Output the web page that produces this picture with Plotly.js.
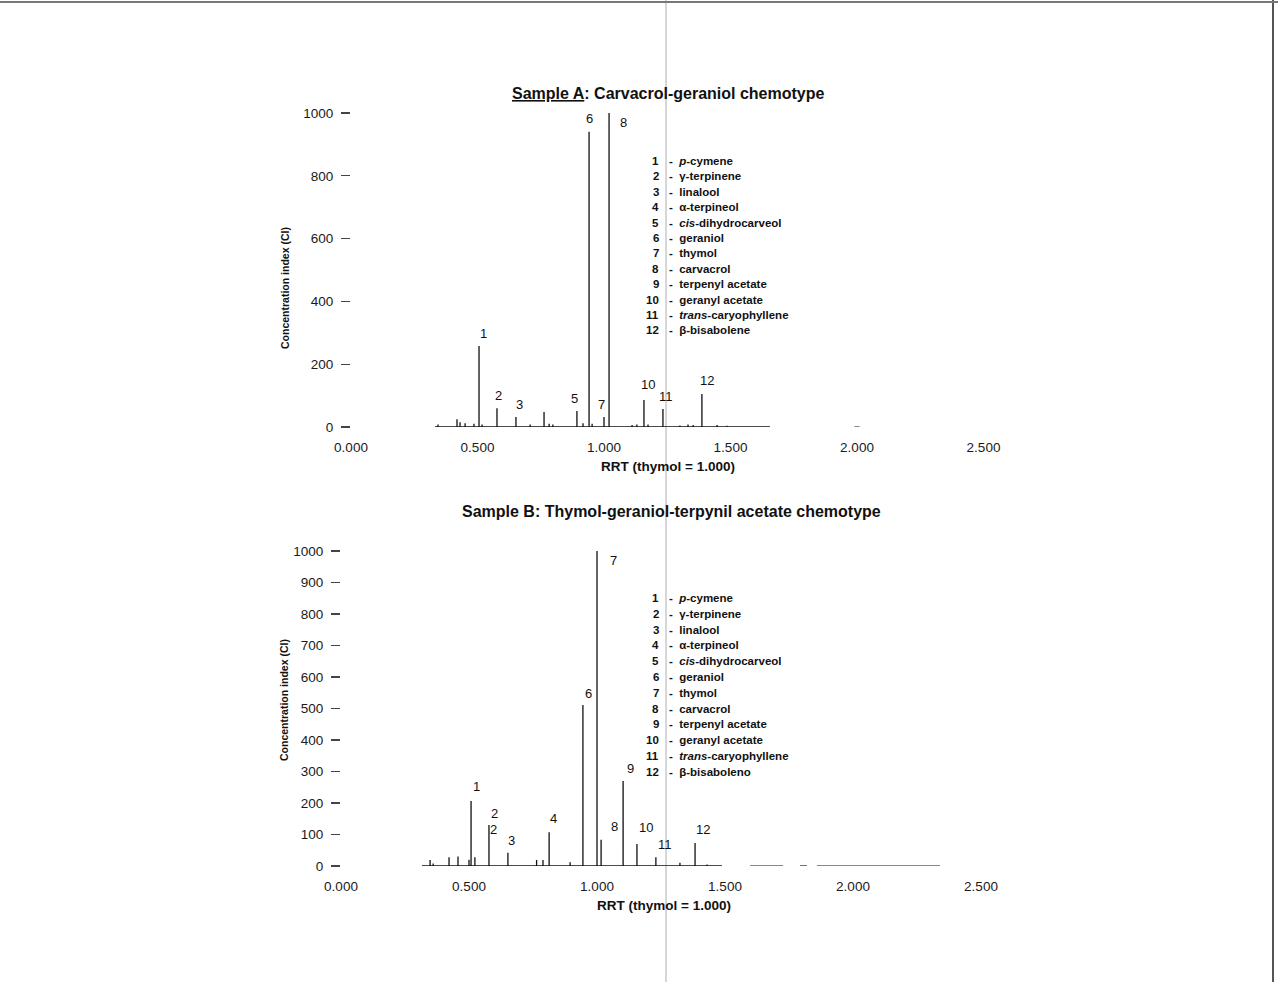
<!DOCTYPE html>
<html><head><meta charset="utf-8">
<script src="https://cdn.plot.ly/plotly-3.0.1.min.js"></script>
<style>html,body{margin:0;padding:0;background:#fff;}#chart{width:1278px;height:982px;}</style>
</head><body><div id="chart"></div>
<script>
// ---------- DATA ----------
const compoundNumbers = ['1','2','3','4','5','6','7','8','9','10','11','12'];
const compoundNames = ['<i>p</i>-cymene','γ-terpinene','linalool','α-terpineol','<i>cis</i>-dihydrocarveol',
  'geraniol','thymol','carvacrol','terpenyl acetate','geranyl acetate','<i>trans</i>-caryophyllene','β-bisabolene'];
const compoundNamesB = ['<i>p</i>-cymene','γ-terpinene','linalool','α-terpineol','<i>cis</i>-dihydrocarveol',
  'geraniol','thymol','carvacrol','terpenyl acetate','geranyl acetate','<i>trans</i>-caryophyllene','β-bisaboleno'];

const titleA = '<u>Sample A</u>: Carvacrol-geraniol chemotype';
const titleB = 'Sample B: Thymol-geraniol-terpynil acetate chemotype';
const xTitle = 'RRT (thymol = 1.000)';
const yTitle = 'Concentration index (CI)';

// Sample A: labelled peaks (RRT, CI)
const peakLabelA = ['1','2','3','5','6','7','8','10','11','12'];
const peakRrtA   = [0.506,0.577,0.652,0.893,0.941,1.000,1.020,1.158,1.233,1.387];
const peakCiA    = [258,60,32,51,940,32,1000,86,57,105];
// Sample A: unlabelled minor peaks
const minorRrtA = [0.344,0.419,0.431,0.451,0.486,0.518,0.708,0.763,0.783,0.798,0.917,0.953,1.111,1.130,1.174,1.300,1.332,1.352,1.447,1.486];
const minorCiA  = [8,25,15,12,10,8,8,48,10,8,12,10,6,8,8,5,8,6,6,4];
const baselineA = [0.332,1.656];
const tailA = [[1.99,2.01]];

// Sample B: labelled peaks
const peakLabelB = ['1','2','3','4','6','7','8','9','10','11','12'];
const peakRrtB   = [0.508,0.578,0.652,0.813,0.945,1.000,1.016,1.102,1.156,1.230,1.383];
const peakCiB    = [206,130,42,107,511,1000,83,270,70,28,73];
const minorRrtB = [0.348,0.360,0.422,0.457,0.500,0.523,0.764,0.789,0.895,1.324,1.430];
const minorCiB  = [19,8,28,30,20,28,19,19,12,10,5];
const baselineB = [0.316,1.488];
const tailB = [[1.598,1.727],[1.793,1.820],[1.859,2.340]];

// ---------- STYLE / LAYOUT HELPERS ----------
const W = 1278, H = 982;
const px = x => x / W, py = y => 1 - y / H;
const FONT = 'Liberation Sans, Arial, Helvetica, sans-serif';
// label offsets (px) [xshift, yshift, mode]
const offA = {'1':[4,3],'2':[2,3],'3':[4,3],'5':[-2,3],'6':[0,4],'7':[-3,3],'8':[14,0,'top'],'10':[4,6],'11':[3,3],'12':[5,4]};
const offB = {'1':[5,5],'2':[6,2],'3':[4,3],'4':[4,4],'6':[6,2],'7':[16,0,'top'],'8':[13,4],'9':[7,3],'10':[9,7],'11':[9,3],'12':[8,4]};

function chromatogram(pr, pc, mr, mc, base) {
  const pts = pr.map((r,i)=>[r,pc[i]]).concat(mr.map((r,i)=>[r,mc[i]])).sort((a,b)=>a[0]-b[0]);
  const x=[base[0]], y=[0];
  pts.forEach(p=>{ x.push(p[0],p[0],p[0]); y.push(0,p[1],0); });
  x.push(base[1]); y.push(0);
  return {x,y};
}
function tailTrace(segs, xa, ya) {
  const x=[], y=[];
  segs.forEach(s=>{ x.push(s[0],s[1],null); y.push(0,0,null); });
  return {x,y,xaxis:xa,yaxis:ya,mode:'lines',line:{color:'#111',width:1.2},hoverinfo:'skip',showlegend:false};
}

const cA = chromatogram(peakRrtA, peakCiA, minorRrtA, minorCiA, baselineA);
const cB = chromatogram(peakRrtB, peakCiB, minorRrtB, minorCiB, baselineB);

const traces = [
  {x:cA.x, y:cA.y, xaxis:'x', yaxis:'y', mode:'lines', line:{color:'#111',width:1.3}, showlegend:false, hoverinfo:'skip'},
  tailTrace(tailA,'x','y'),
  {x:cB.x, y:cB.y, xaxis:'x2', yaxis:'y2', mode:'lines', line:{color:'#111',width:1.3}, showlegend:false, hoverinfo:'skip'},
  tailTrace(tailB,'x2','y2')
];

const ann = [];
function peakLabels(labels, rrt, ci, off, xr, yr) {
  labels.forEach((t,i)=>{
    const o = off[t] || [3,3];
    ann.push({text:t, x:rrt[i], y:ci[i], xref:xr, yref:yr, showarrow:false,
      xanchor:'center', yanchor:o[2]==='top'?'top':'bottom', xshift:o[0], yshift:o[1],
      font:{family:FONT,size:13,color:'#111'}});
  });
}
peakLabels(peakLabelA, peakRrtA, peakCiA, offA, 'x', 'y');
peakLabels(peakLabelB, peakRrtB, peakCiB, offB, 'x2', 'y2');
// duplicated "2" printed on peak 2 of sample B
ann.push({text:peakLabelB[1], x:peakRrtB[1], y:peakCiB[1], xref:'x2', yref:'y2', showarrow:false,
  xanchor:'center', yanchor:'middle', xshift:5, yshift:-4, font:{family:FONT,size:13,color:'#111'}});

function txt(text, x, y, size, opts) {
  ann.push(Object.assign({text:text, x:px(x), y:py(y), xref:'paper', yref:'paper', showarrow:false,
    xanchor:'center', yanchor:'middle', font:{family:FONT,size:size,color:'#111',weight:'bold'}}, opts||{}));
}
function legendBlock(names, top, step) {
  compoundNumbers.forEach((n,i)=>{
    const yy = top + i*step;
    txt(n, 661, yy, 11.5, {xanchor:'right'});
    txt('-&nbsp;&nbsp;'+names[i], 667, yy, 11.5, {xanchor:'left'});
  });
}
legendBlock(compoundNames, 161, 15.4);
legendBlock(compoundNamesB, 598, 15.8);

// titles
txt(titleA, 668, 93, 16);
txt(titleB, 671, 511, 16);
txt(xTitle, 668, 466, 13.5);
txt(xTitle, 664, 905, 13.5);
txt(yTitle, 285, 288, 10.5, {textangle:-90});
txt(yTitle, 284, 700, 10.5, {textangle:-90});

const tickFont = {family:FONT,size:13.5,color:'#1a1a1a'};
const xCommon = {range:[0,2.5], tickvals:[0,0.5,1,1.5,2,2.5], tickformat:'.3f', showline:false, showgrid:false,
  zeroline:false, ticks:'', ticklabelstandoff:10, tickfont:tickFont, fixedrange:true};
const yCommon = {range:[0,1050], showline:false, showgrid:false, zeroline:false, ticks:'outside', ticklen:9,
  tickwidth:1.2, tickcolor:'#444', ticklabelstandoff:5, tickfont:tickFont, fixedrange:true};

const layout = {
  width:W, height:H, margin:{l:0,r:0,t:0,b:0}, paper_bgcolor:'#ffffff', plot_bgcolor:'rgba(0,0,0,0)',
  showlegend:false,
  xaxis:  Object.assign({}, xCommon, {domain:[px(351), px(351+253*2.5)], anchor:'y'}),
  yaxis:  Object.assign({}, yCommon, {domain:[py(427), py(427-0.314*1050)], anchor:'x', tickvals:[0,200,400,600,800,1000]}),
  xaxis2: Object.assign({}, xCommon, {domain:[px(341), px(341+256*2.5)], anchor:'y2'}),
  yaxis2: Object.assign({}, yCommon, {domain:[py(866), py(866-0.315*1050)], anchor:'x2', tickvals:[0,100,200,300,400,500,600,700,800,900,1000]}),
  annotations: ann,
  shapes: [
    {type:'line', xref:'paper', yref:'paper', x0:px(666), x1:px(666), y0:0, y1:1, line:{color:'#d6d6d6', width:2}, layer:'below'},
    {type:'line', xref:'paper', yref:'paper', x0:px(1273), x1:px(1273), y0:0, y1:1, line:{color:'#555', width:2}, layer:'below'},
    {type:'line', xref:'paper', yref:'paper', x0:0, x1:1, y0:py(2), y1:py(2), line:{color:'#777', width:2}, layer:'below'}
  ]
};
Plotly.newPlot('chart', traces, layout, {staticPlot:true, displayModeBar:false});
</script></body></html>
